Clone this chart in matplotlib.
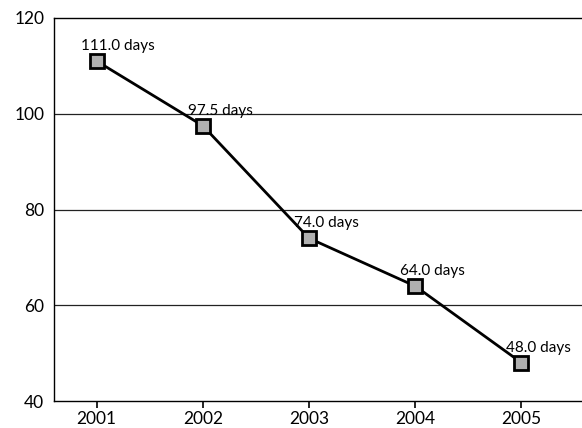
import matplotlib
matplotlib.use("Agg")
import matplotlib.pyplot as plt

years = [2001, 2002, 2003, 2004, 2005]
days = [111.0, 97.5, 74.0, 64.0, 48.0]
labels = ["111.0 days", "97.5 days", "74.0 days", "64.0 days", "48.0 days"]
yticks = [40, 60, 80, 100, 120]

plt.rcParams['font.family'] = ['Lato', 'DejaVu Sans']

fig = plt.figure(figsize=(5.82, 4.28), dpi=100)
ax = fig.add_axes([0.093, 0.063, 0.907, 0.895])

for y in [60, 80, 100]:
    ax.axhline(y, color='#222222', lw=0.9, zorder=1)

ax.plot(years, days, color='black', lw=2, zorder=2,
        marker='s', markersize=10, markerfacecolor='#b0b0b0',
        markeredgecolor='black', markeredgewidth=2)

# labels sit above and a bit right of each marker
for x, y, t in zip(years, days, labels):
    ax.annotate(t, (x, y), xytext=(-11, 8), textcoords='offset points',
                ha='left', va='baseline', fontsize=11)

ax.set_xlim(2000.6, 2005.57)
ax.set_ylim(40, 120)
ax.set_xticks(years)
ax.set_yticks(yticks)
ax.tick_params(axis='y', length=0, labelsize=12.5, pad=7)
ax.tick_params(axis='x', length=5, width=1.2, direction='out', labelsize=12.5, pad=2)
ax.spines['right'].set_visible(False)
for s in ['left', 'top', 'bottom']:
    ax.spines[s].set_linewidth(1.0)

fig.savefig('out.png', dpi=100)
